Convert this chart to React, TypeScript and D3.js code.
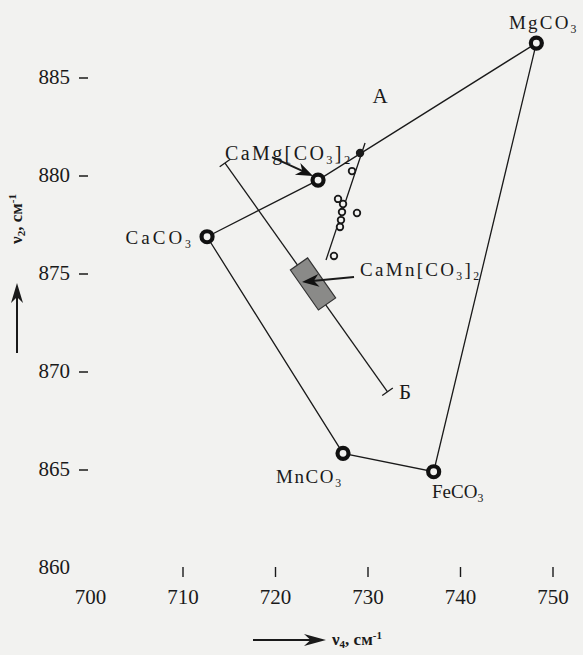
import React from 'react';
import * as d3 from 'd3';

// ---- data ----
const xLabelValues = [700, 710, 720, 730, 740, 750];
const xTickValues = [710, 720, 730, 740, 750];
const yTickValues = [860, 865, 870, 875, 880, 885];

const endMembers = ['CaCO_3', 'CaMg[CO_3]_2', 'MgCO_3', 'FeCO_3', 'MnCO_3'];
const endV4 = [712.6, 724.6, 748.2, 737.1, 727.3];
const endV2 = [876.85, 879.74, 886.73, 864.86, 865.8];

const sampleV4 = [729.14, 728.27, 726.76, 727.3, 727.19, 728.81, 727.08, 726.97, 726.32];
const sampleV2 = [881.12, 880.2, 878.78, 878.52, 878.11, 878.06, 877.7, 877.35, 875.87];
const sampleFilled = [true, false, false, false, false, false, false, false, false];

const trendV4 = [729.68, 725.46];
const trendV2 = [881.63, 875.66];

const profileNames = ['А', 'Б'];
const profileV4 = [714.54, 732.11];
const profileV2 = [880.61, 868.94];

const caMnName = 'CaMn[CO_3]_2';
const caMnV4 = [722.54, 725.57];
const caMnV2 = [875.46, 873.42];

// ---- styles / layout ----
const W = 583, H = 655;
const FONT = "'Liberation Serif', 'DejaVu Serif', 'Times New Roman', serif";
const INK = '#1a1a1a';
const BG = '#f2f2f0';
const endLabelLayout = [
  { x: 194, y: 244, anchor: 'end', ls: 3.0, size: 19 },
  { x: 225, y: 160, anchor: 'start', ls: 2.4, size: 20 },
  { x: 509, y: 29, anchor: 'start', ls: 2.2, size: 19 },
  { x: 432, y: 498, anchor: 'start', ls: 0, size: 19 },
  { x: 276, y: 483, anchor: 'start', ls: 1.6, size: 19 },
];

function Chem({ s, x, y, anchor, ls, size }: any) {
  const parts: { t: string; sub: boolean }[] = [];
  let i = 0;
  while (i < s.length) {
    if (s[i] === '_') { parts.push({ t: s[i + 1], sub: true }); i += 2; }
    else {
      let j = i; let buf = '';
      while (j < s.length && s[j] !== '_') { buf += s[j]; j++; }
      parts.push({ t: buf, sub: false }); i = j;
    }
  }
  let cur = 0;
  return (
    <text x={x} y={y} textAnchor={anchor} style={{ fontFamily: FONT, fontSize: size, letterSpacing: ls }} fill={INK}>
      {parts.map((p, k) => {
        const target = p.sub ? 4 : 0;
        const dy = target - cur;
        cur = target;
        return <tspan key={k} dy={dy} style={{ fontSize: p.sub ? size * 0.62 : size }}>{p.t}</tspan>;
      })}
    </text>
  );
}

function arrowHead(x1: number, y1: number, x2: number, y2: number, L = 17, hw = 6.5) {
  const a = Math.atan2(y2 - y1, x2 - x1);
  const bx = x2 - L * Math.cos(a), by = y2 - L * Math.sin(a);
  const nx = -Math.sin(a), ny = Math.cos(a);
  const mx = x2 - L * 0.7 * Math.cos(a), my = y2 - L * 0.7 * Math.sin(a);
  return `M${x2},${y2} L${bx + nx * hw},${by + ny * hw} L${mx},${my} L${bx - nx * hw},${by - ny * hw} Z`;
}

export default function App() {
  const x = d3.scaleLinear().domain([700, 750]).range([90.5, 553]);
  const y = d3.scaleLinear().domain([860, 885]).range([567, 77]);

  const poly = d3.line<number>().x(i => x(endV4[i])).y(i => y(endV2[i]));
  const polyIdx = [0, 1, 2, 3, 4, 0];

  const px1 = x(profileV4[0]), py1 = y(profileV2[0]);
  const px2 = x(profileV4[1]), py2 = y(profileV2[1]);
  const pa = Math.atan2(py2 - py1, px2 - px1);
  const pnx = -Math.sin(pa) * 6.5, pny = Math.cos(pa) * 6.5;

  const bx1 = x(caMnV4[0]), by1 = y(caMnV2[0]);
  const bx2 = x(caMnV4[1]), by2 = y(caMnV2[1]);
  const ba = Math.atan2(by2 - by1, bx2 - bx1);
  const bhw = 10.5;
  const bnx = -Math.sin(ba) * bhw, bny = Math.cos(ba) * bhw;
  const boxPath = `M${bx1 + bnx},${by1 + bny} L${bx2 + bnx},${by2 + bny} L${bx2 - bnx},${by2 - bny} L${bx1 - bnx},${by1 - bny} Z`;

  const cmx = x(endV4[1]), cmy = y(endV2[1]);
  const a1 = { x1: cmx - 46, y1: cmy - 23, x2: cmx - 5, y2: cmy - 4 };
  const bcx = (bx1 + bx2) / 2, bcy = (by1 + by2) / 2;
  const a2 = { x1: bcx + 41, y1: bcy - 7, x2: bcx - 11, y2: bcy - 2 };

  const tStyle = { fontFamily: FONT, fontSize: 21 };
  const titleStyle = { fontFamily: FONT, fontSize: 17, fontWeight: 'bold' as const };

  return (
    <svg width={W} height={H} style={{ position: 'absolute', left: 0, top: 0, background: BG }}>
      <rect x={0} y={0} width={W} height={H} fill={BG} />

      {yTickValues.map(v => (
        <g key={v}>
          <text x={70} y={y(v) + 7} textAnchor="end" style={tStyle} fill={INK}>{v}</text>
          {v > 860 && <line x1={79} x2={88} y1={y(v) + 1} y2={y(v) + 1} stroke={INK} strokeWidth={1.5} />}
        </g>
      ))}
      {xTickValues.map(v => (
        <line key={'t' + v} x1={x(v)} x2={x(v)} y1={567} y2={577} stroke={INK} strokeWidth={1.4} />
      ))}
      {xLabelValues.map(v => (
        <text key={v} x={x(v)} y={604} textAnchor="middle" style={tStyle} fill={INK}>{v}</text>
      ))}

      <line x1={17} x2={17} y1={353} y2={295} stroke={INK} strokeWidth={2} />
      <path d={arrowHead(17, 353, 17, 283, 20, 6)} fill={INK} />
      <text transform="translate(22,219) rotate(-90)" textAnchor="middle" style={titleStyle} fill={INK}>
        ν<tspan dy={3} style={{ fontSize: 11 }}>2</tspan><tspan dy={-3}>, см</tspan><tspan dy={-6} style={{ fontSize: 11 }}>-1</tspan>
      </text>
      <line x1={253} x2={312} y1={640} y2={640} stroke={INK} strokeWidth={2} />
      <path d={arrowHead(253, 640, 326, 640, 22, 6)} fill={INK} />
      <text x={332} y={645} style={titleStyle} fill={INK}>
        ν<tspan dy={3} style={{ fontSize: 11 }}>4</tspan><tspan dy={-3}>, см</tspan><tspan dy={-6} style={{ fontSize: 11 }}>-1</tspan>
      </text>

      <path d={poly(polyIdx) || ''} fill="none" stroke={INK} strokeWidth={1.3} />

      <line x1={px1} y1={py1} x2={px2} y2={py2} stroke={INK} strokeWidth={1.3} />
      <line x1={px1 - pnx} y1={py1 - pny} x2={px1 + pnx} y2={py1 + pny} stroke={INK} strokeWidth={1.3} />
      <line x1={px2 - pnx} y1={py2 - pny} x2={px2 + pnx} y2={py2 + pny} stroke={INK} strokeWidth={1.3} />
      <text x={380} y={103} textAnchor="middle" style={tStyle} fill={INK}>{profileNames[0]}</text>
      <text x={405} y={399} textAnchor="middle" style={tStyle} fill={INK}>{profileNames[1]}</text>

      <path d={boxPath} fill="#8a8a88" stroke="#333" strokeWidth={1.2} />

      <line x1={x(trendV4[0])} y1={y(trendV2[0])} x2={x(trendV4[1])} y2={y(trendV2[1])} stroke={INK} strokeWidth={1.3} />

      {sampleV4.map((v, i) => (
        <circle key={i} cx={x(v)} cy={y(sampleV2[i])} r={3.3}
          fill={sampleFilled[i] ? INK : BG} stroke={INK} strokeWidth={1.8} />
      ))}

      {endV4.map((v, i) => (
        <circle key={i} cx={x(v)} cy={y(endV2[i])} r={5.5} fill={BG} stroke="#111" strokeWidth={4.2} />
      ))}

      <line x1={a1.x1} y1={a1.y1} x2={a1.x2 - 8} y2={a1.y2 - 4} stroke={INK} strokeWidth={2} />
      <path d={arrowHead(a1.x1, a1.y1, a1.x2, a1.y2)} fill="#111" />
      <line x1={a2.x1} y1={a2.y1} x2={a2.x2 + 10} y2={a2.y2 - 1} stroke={INK} strokeWidth={2} />
      <path d={arrowHead(a2.x1, a2.y1, a2.x2, a2.y2)} fill="#111" />

      {endMembers.map((n, i) => (
        <Chem key={n} s={n} x={endLabelLayout[i].x} y={endLabelLayout[i].y}
          anchor={endLabelLayout[i].anchor} ls={endLabelLayout[i].ls} size={endLabelLayout[i].size} />
      ))}
      <Chem s={caMnName} x={360} y={276} anchor="start" ls={2.3} size={19} />
    </svg>
  );
}
